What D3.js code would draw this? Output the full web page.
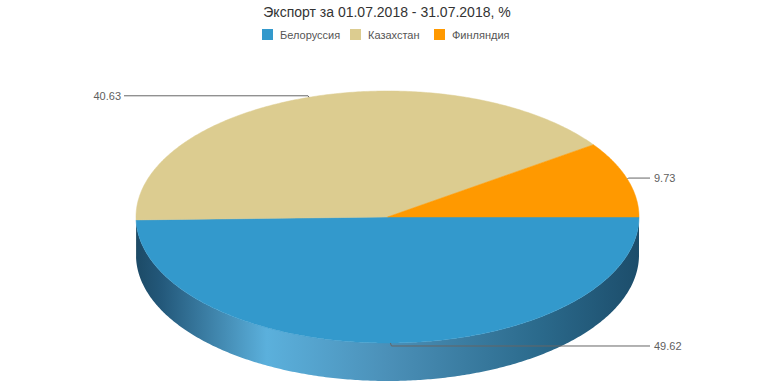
<!DOCTYPE html>
<html>
<head>
<meta charset="utf-8">
<script src="https://cdn.jsdelivr.net/npm/d3@7"></script>
<style>
  body { margin: 0; background: #fff; }
  text { font-family: "Liberation Sans", Arial, sans-serif; }
</style>
</head>
<body>
<div id="chart"></div>
<script>
const countries = ["Белоруссия", "Казахстан", "Финляндия"];
const shares = [49.62, 40.63, 9.73];
const colors = ["#3399cc", "#dccc90", "#ff9900"];
const title = "Экспорт за 01.07.2018 - 31.07.2018, %";

const width = 774, height = 387;
const cx = 387.5, cy = 217;
const rx = 251.5, ry = 126, depth = 38;

const svg = d3.select("#chart").append("svg")
    .attr("width", width)
    .attr("height", height);

// Gradient for the pie's side wall.
const defs = svg.append("defs");
const grad = defs.append("linearGradient")
    .attr("id", "side")
    .attr("gradientUnits", "userSpaceOnUse")
    .attr("x1", cx - rx).attr("x2", cx + rx)
    .attr("y1", 0).attr("y2", 0);
[[0, "#1c4a66"], [0.05, "#23587a"], [0.26, "#5bb0dc"], [0.5, "#4b90b8"], [0.8, "#2b6a8c"], [1, "#1c4d6b"]]
  .forEach(([o, c]) => grad.append("stop").attr("offset", o).attr("stop-color", c));

// Title
svg.append("text")
    .attr("x", width / 2)
    .attr("y", 17)
    .attr("text-anchor", "middle")
    .attr("font-size", 14)
    .attr("fill", "#333")
    .text(title);

// Legend
const legendX = [262, 350, 434];
const legend = svg.append("g");
countries.forEach((name, i) => {
  legend.append("rect")
      .attr("x", legendX[i]).attr("y", 29)
      .attr("width", 11).attr("height", 11)
      .attr("fill", colors[i]);
  legend.append("text")
      .attr("x", legendX[i] + 18).attr("y", 38.5)
      .attr("font-size", 11)
      .attr("fill", "#555")
      .text(name);
});

// Pie angles: start at 3 o'clock, go clockwise.
const pie = d3.pie()
    .sort(null)
    .value(d => d)
    .startAngle(Math.PI / 2)
    .endAngle(Math.PI / 2 + 2 * Math.PI);
const arcs = pie(shares);

const px = a => cx + rx * Math.sin(a);
const py = a => cy - ry * Math.cos(a);

function arcPoints(a0, a1, dy) {
  const n = Math.max(2, Math.ceil(Math.abs(a1 - a0) / 0.01));
  const pts = [];
  for (let i = 0; i <= n; i++) {
    const a = a0 + (a1 - a0) * i / n;
    pts.push([px(a), py(a) + dy]);
  }
  return pts;
}

const line = d3.line();

// Side walls: only the front half (angles PI/2 .. 3PI/2) is visible.
const sideG = svg.append("g");
arcs.forEach((d, i) => {
  const a0 = Math.max(d.startAngle, Math.PI / 2);
  const a1 = Math.min(d.endAngle, 3 * Math.PI / 2);
  if (a1 <= a0) return;
  const top = arcPoints(a0, a1, 0);
  const bottom = arcPoints(a1, a0, depth);
  sideG.append("path")
      .attr("d", line(top.concat(bottom)) + "Z")
      .attr("fill", i === 0 ? "url(#side)" : d3.color(colors[i]).darker(1.2));
});

// Top faces
const topG = svg.append("g");
arcs.forEach((d, i) => {
  const pts = [[cx, cy]].concat(arcPoints(d.startAngle, d.endAngle, 0));
  topG.append("path")
      .attr("d", line(pts) + "Z")
      .attr("fill", colors[i])
      .attr("stroke", colors[i])
      .attr("stroke-width", 0.5);
});

// Data labels with connectors
const labelG = svg.append("g");
const labelOffsetY = [3, -1.5, -1];
arcs.forEach((d, i) => {
  const mid = (d.startAngle + d.endAngle) / 2;
  const x0 = px(mid), y0 = py(mid);
  const right = Math.sin(mid) > 0 || x0 > cx;
  const ly = y0 + labelOffsetY[i];
  const lx = right ? 650 : 124;
  labelG.append("path")
      .attr("d", line([[x0, y0], [x0 + (right ? 1 : -1), ly], [lx, ly]]))
      .attr("fill", "none")
      .attr("stroke", "#666")
      .attr("stroke-width", 1);
  labelG.append("text")
      .attr("x", right ? lx + 4 : lx - 3)
      .attr("y", ly + 4)
      .attr("text-anchor", right ? "start" : "end")
      .attr("font-size", 11)
      .attr("fill", "#606060")
      .text(d.data.toFixed(2));
});
</script>
</body>
</html>
